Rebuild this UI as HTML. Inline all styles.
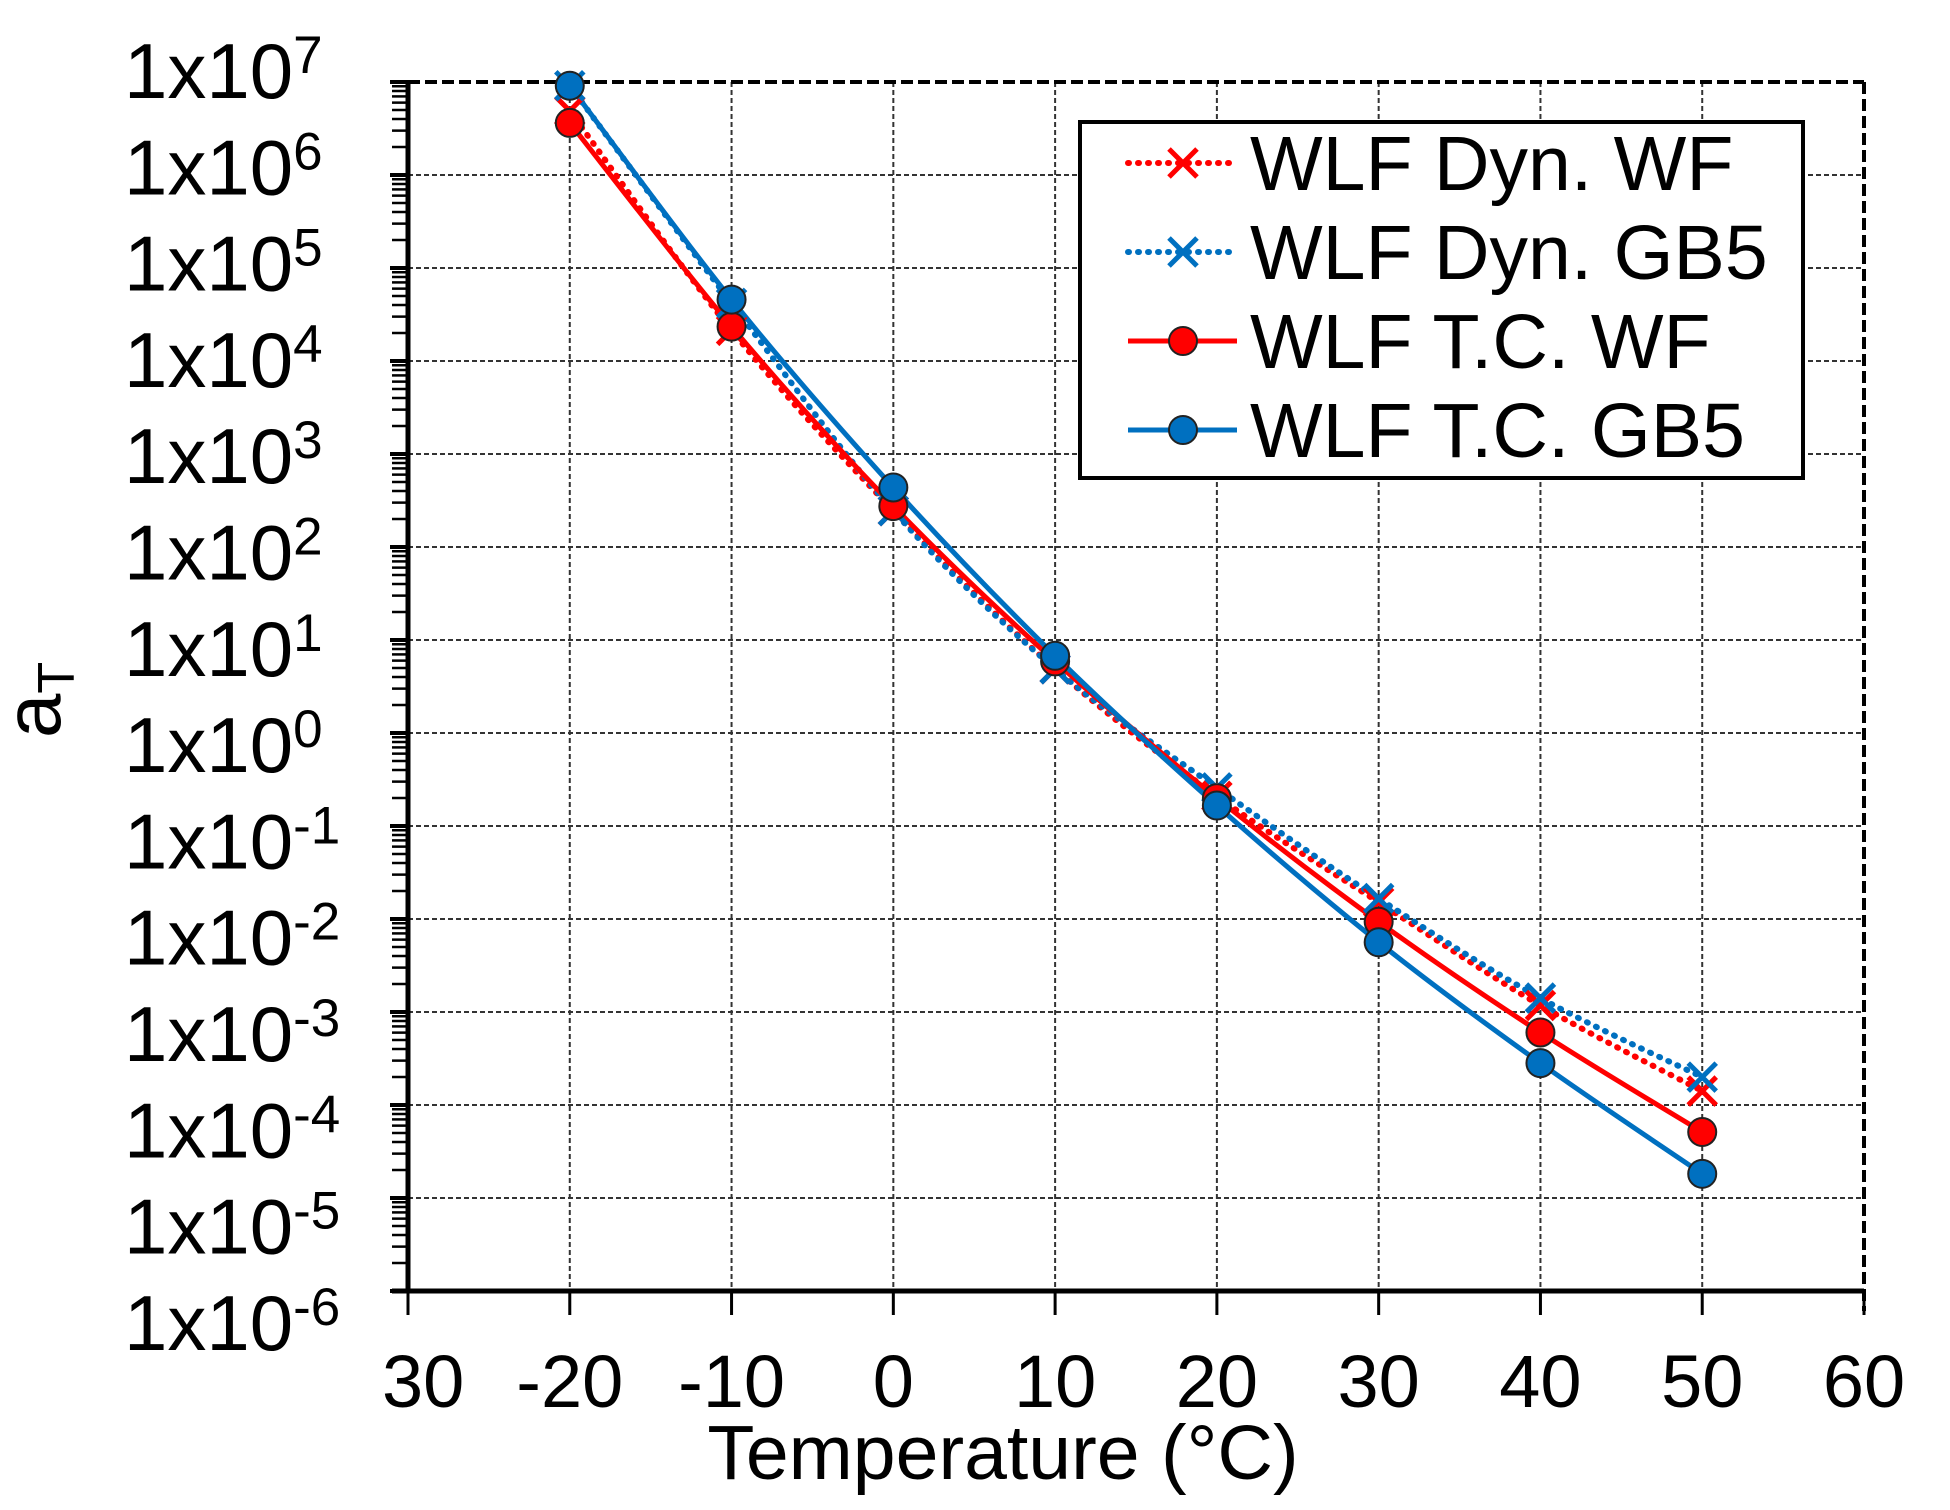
<!DOCTYPE html>
<html><head><meta charset="utf-8"><style>
html,body{margin:0;padding:0;background:#fff}
svg{display:block}
text{font-family:"Liberation Sans",Arial,sans-serif;fill:#000}
</style></head><body>
<svg id="chart" width="1950" height="1510" viewBox="0 0 1950 1510">
<g id="grid"></g>
<g id="axes"></g>
<g id="series"></g>
<text x="1003" y="1479" font-size="77" text-anchor="middle">Temperature (°C)</text>
<text transform="translate(60,700) rotate(-90)" font-size="80" text-anchor="middle">a<tspan font-size="52" dy="14">T</tspan></text>
<g id="legend"></g>
</svg>
<script>
const temps = [-20, -10, 0, 10, 20, 30, 40, 50];
const dynWF = [6.69, 4.33, 2.39, 0.69, -0.68, -1.82, -2.93, -3.85];
const dynGB5 = [6.96, 4.62, 2.39, 0.69, -0.59, -1.78, -2.85, -3.70];
const tcWF = [6.56, 4.37, 2.44, 0.77, -0.70, -2.03, -3.22, -4.29];
const tcGB5 = [6.96, 4.66, 2.64, 0.83, -0.78, -2.25, -3.55, -4.74];
const xTicks = [-30, -20, -10, 0, 10, 20, 30, 40, 50, 60];
const xTickLabels = ["30", "-20", "-10", "0", "10", "20", "30", "40", "50", "60"];
const yExps = [7, 6, 5, 4, 3, 2, 1, 0, -1, -2, -3, -4, -5, -6];
const legendLabels = ["WLF Dyn. WF", "WLF Dyn. GB5", "WLF T.C. WF", "WLF T.C. GB5"];

const NS = "http://www.w3.org/2000/svg";
const L = 408, R = 1864, T = 82, B = 1291;
function xs(t){ return L + (t + 30) / 90 * (R - L); }
function ys(e){ return T + (7 - e) / 13 * (B - T); }
function mk(tag, attrs, parent){ const el = document.createElementNS(NS, tag); for (const k in attrs) el.setAttribute(k, attrs[k]); parent.appendChild(el); return el; }
const grid = document.getElementById('grid'), axes = document.getElementById('axes'), series = document.getElementById('series'), legend = document.getElementById('legend');

xTicks.forEach((t, i) => {
  if (i === 0 || i === xTicks.length - 1) return;
  const g = mk('line', {x1: xs(t), x2: xs(t), y1: T, y2: B, stroke: '#333', 'stroke-width': 2, 'stroke-dasharray': '5,3'}, grid);
  
  
});
yExps.forEach((e, i) => {
  if (i === 0 || i === yExps.length - 1) return;
  const g = mk('line', {x1: L, x2: R, y1: ys(e), y2: ys(e), stroke: '#333', 'stroke-width': 2, 'stroke-dasharray': '5,3'}, grid);
  
  
});
let f = mk('line', {x1: L, x2: R, y1: T, y2: T, stroke: '#000', 'stroke-width': 4, 'stroke-dasharray': '12,5'}, axes);
 
f = mk('line', {x1: R, x2: R, y1: T, y2: B + 20, stroke: '#000', 'stroke-width': 4, 'stroke-dasharray': '12,5'}, axes);
 
f = mk('line', {x1: L, x2: L, y1: T - 2, y2: B + 2, stroke: '#000', 'stroke-width': 5}, axes);
 
f = mk('line', {x1: L - 16, x2: R, y1: B, y2: B, stroke: '#000', 'stroke-width': 5}, axes);
 

xTicks.forEach((t, i) => {
  const tk = mk('line', {x1: xs(t), x2: xs(t), y1: B, y2: B + 24, stroke: '#000', 'stroke-width': 3}, axes);
  
  
  const lb = mk('text', {x: i === 0 ? 382 : xs(t), y: 1407, 'font-size': 74, 'text-anchor': i === 0 ? 'start' : 'middle'}, axes);
  lb.textContent = xTickLabels[i];
  
  
});
yExps.forEach((e, i) => {
  const y = ys(e);
  const tk = mk('line', {x1: L - 18, x2: L, y1: y, y2: y, stroke: '#000', 'stroke-width': 4}, axes);
  
  
  if (i < yExps.length - 1) {
    for (let m = 2; m <= 9; m++) {
      const yy = ys(e - 1 + Math.log10(m));
      const mt = mk('line', {x1: L - 16, x2: L, y1: yy, y2: yy, stroke: '#000', 'stroke-width': 2.5}, axes);
      
      
    }
  }
  // labels in the reference are spaced slightly wider than the grid
  const lb = mk('text', {x: 124, y: 98 + i * 96.3, 'font-size': 78}, axes);
  
  
  lb.appendChild(document.createTextNode('1x10'));
  const sup = mk('tspan', {'font-size': 53, dy: -25}, lb);
  sup.textContent = String(e);
});

function smoothPath(pts){
  let d = 'M' + pts[0][0] + ',' + pts[0][1];
  for (let i = 0; i < pts.length - 1; i++) {
    const p0 = pts[Math.max(0, i - 1)], p1 = pts[i], p2 = pts[i + 1], p3 = pts[Math.min(pts.length - 1, i + 2)];
    const c1x = p1[0] + (p2[0] - p0[0]) / 6, c1y = p1[1] + (p2[1] - p0[1]) / 6;
    const c2x = p2[0] - (p3[0] - p1[0]) / 6, c2y = p2[1] - (p3[1] - p1[1]) / 6;
    d += ' C' + c1x + ',' + c1y + ' ' + c2x + ',' + c2y + ' ' + p2[0] + ',' + p2[1];
  }
  return d;
}
function cross(cx, cy, color, parent, name){
  const g = mk('g', {}, parent);
  
  
  mk('path', {d: `M${cx-14},${cy-14}L${cx+14},${cy+14}M${cx-14},${cy+14}L${cx+14},${cy-14}`, stroke: color, 'stroke-width': 5, fill: 'none'}, g);
}
function dot(cx, cy, color, parent, name){
  const c = mk('circle', {cx: cx, cy: cy, r: 14, fill: color, stroke: '#222', 'stroke-width': 2}, parent);
  
  
}
const RED = '#ff0000', BLUE = '#0070c0';
const defs = [
  {vals: dynWF, color: RED, dash: '1,9', marker: 'x', name: 'dyn-wf'},
  {vals: dynGB5, color: BLUE, dash: '1,9', marker: 'x', name: 'dyn-gb5'},
  {vals: tcWF, color: RED, dash: null, marker: 'o', name: 'tc-wf'},
  {vals: tcGB5, color: BLUE, dash: null, marker: 'o', name: 'tc-gb5'}
];
defs.forEach(s => {
  const pts = temps.map((t, i) => [xs(t), ys(s.vals[i])]);
  const a = {d: smoothPath(pts), stroke: s.color, 'stroke-width': 5, fill: 'none'};
  if (s.dash) { a['stroke-dasharray'] = s.dash; a['stroke-linecap'] = 'round'; a['stroke-width'] = 6; }
  const p = mk('path', a, series);
  
  
});
defs.forEach(s => {
  temps.forEach((t, i) => {
    if (s.marker === 'x') cross(xs(t), ys(s.vals[i]), s.color, series, s.name + '-marker');
    else dot(xs(t), ys(s.vals[i]), s.color, series, s.name + '-marker');
  });
});

const box = mk('rect', {x: 1080, y: 122, width: 723, height: 356, fill: '#fff', stroke: '#000', 'stroke-width': 4}, legend);


const baselines = [190, 279, 368, 457];
defs.forEach((s, i) => {
  const g = mk('g', {}, legend);
  
  
  const ly = baselines[i] - 27;
  const a = {x1: 1128, x2: 1237, y1: ly, y2: ly, stroke: s.color, 'stroke-width': 5};
  if (s.dash) { a['stroke-dasharray'] = s.dash; a['stroke-linecap'] = 'round'; a['stroke-width'] = 6; }
  mk('line', a, g);
  if (s.marker === 'x') cross(1183, ly, s.color, g, 'legend-marker');
  else dot(1183, ly, s.color, g, 'legend-marker');
  const t = mk('text', {x: 1250, y: baselines[i], 'font-size': 77}, g);
  t.textContent = legendLabels[i];
});
</script>
</body></html>
